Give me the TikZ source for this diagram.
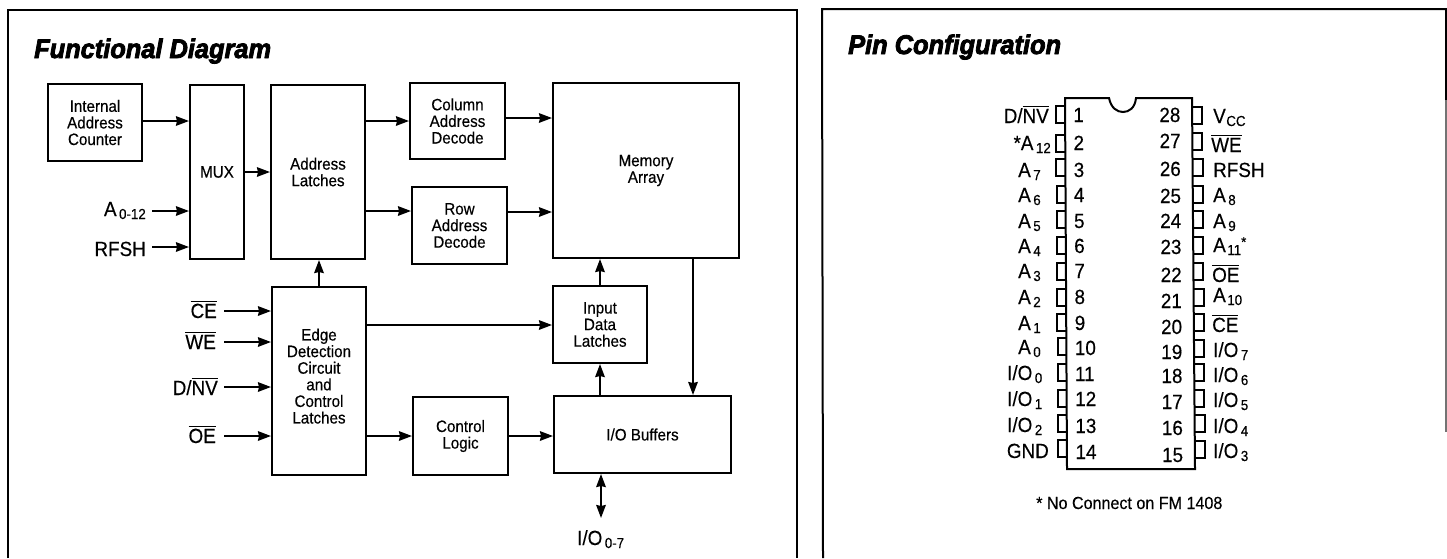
\documentclass[tikz,border=0pt]{standalone}
\usepackage{fontspec}
\setmainfont[FakeStretch=0.92,FakeBold=0.35]{Liberation Sans}
\newfontfamily\titlefont[FakeBold=3,FakeStretch=0.94]{Liberation Sans Bold Italic}
\usetikzlibrary{arrows.meta}
\newcommand\ovl[1]{\leavevmode\vbox{\hrule height 1.5pt\kern 1.6pt\hbox{#1}}}
\newcommand\lowsub[1]{\kern2.5pt\raisebox{-3pt}{\fontsize{14.5}{15}\selectfont #1}}
\tikzset{
  x=1pt,y=-1pt,
  panel/.style={line width=2pt,black},
  blockbox/.style={draw,line width=2pt,inner sep=0pt,align=center,
    font=\fontsize{16.5}{16.6}\selectfont},
  conn/.style={line width=2pt,-{Stealth[length=13pt,width=9.5pt,inset=1pt]}},
  bus/.style={line width=2pt,{Stealth[length=13pt,width=9.5pt,inset=1pt]}-{Stealth[length=13pt,width=9.5pt,inset=1pt]}},
  biglabel/.style={inner sep=0pt,anchor=base east,font=\fontsize{20.5}{21}\selectfont},
  pinbox/.style={line width=2pt},
  pintext/.style={inner sep=0pt,anchor=base west,font=\fontsize{20.5}{21}\selectfont},
  pintextr/.style={inner sep=0pt,anchor=base east,font=\fontsize{20.5}{21}\selectfont},
  title/.style={inner sep=0pt,anchor=base west,font=\titlefont\fontsize{27}{28}\selectfont},
}
\newcommand\blockn[6]{%
  \node[blockbox,minimum width={#4-#2},minimum height={#5-#3}] (#1) at ({(#2+#4)/2},{(#3+#5)/2}) {#6};}
\begin{document}
\begin{tikzpicture}
\useasboundingbox (0,0) rectangle (1447,558);
% panels
\draw[panel] (8,558) -- (8,10) -- (797,10) -- (797,558);
\draw[panel] (823,558) -- (822,9) -- (1446,9) -- (1446,100);
\draw[line width=1.2pt,black!55] (1446,100) -- (1446,432);
\node[title] (t1) at (34,58) {Functional Diagram};
\node[title] (t2) at (848,54) {Pin Configuration};
% blocks
\blockn{int}{48}{84}{142}{161}{Internal\\Address\\Counter}
\blockn{mux}{190}{85}{244}{259}{MUX}
\blockn{adl}{271}{85}{365}{259}{Address\\Latches}
\blockn{col}{410}{83}{505}{159}{Column\\Address\\Decode}
\blockn{row}{412}{187}{507}{264}{Row\\Address\\Decode}
\blockn{mem}{553}{83}{739}{258}{Memory\\Array}
\blockn{inp}{553}{286}{647}{363}{Input\\Data\\Latches}
\blockn{iob}{554}{396}{731}{473}{I/O Buffers}
\blockn{ctl}{413}{397}{508}{475}{Control\\Logic}
\node[blockbox,minimum width=94,minimum height=188,text depth=10pt] (edg) at (319,381) {Edge\\Detection\\Circuit\\and\\Control\\Latches};
% external labels
\node[biglabel] (la) at (146,216) {A\lowsub{0-12}};
\node[biglabel] (lr) at (146,256) {RFSH};
\node[biglabel] (lce) at (217,318) {\ovl{CE}};
\node[biglabel] (lwe) at (216,349) {\ovl{WE}};
\node[biglabel] (ldn) at (218,395) {D/\ovl{NV}};
\node[biglabel] (loe) at (216,443) {\ovl{OE}};
\node[biglabel,anchor=base west] (lio) at (577,545) {I/O\lowsub{0-7}};
\coordinate (sa) at (152,211);
\coordinate (sr) at (152,247);
\coordinate (sce) at (224,311);
\coordinate (swe) at (224,342);
\coordinate (sdn) at (224,387);
\coordinate (soe) at (224,436);
\coordinate (sio) at (601,518);
% connectors
\draw[conn] (int.east |- 0,121) -- (mux.west |- 0,121);
\draw[conn] (mux.east |- 0,172) -- (adl.west |- 0,172);
\draw[conn] (sa) -- (mux.west |- sa);
\draw[conn] (sr) -- (mux.west |- sr);
\draw[conn] (adl.east |- 0,121) -- (col.west |- 0,121);
\draw[conn] (adl.east |- 0,211) -- (row.west |- 0,211);
\draw[conn] (col.east |- 0,118) -- (mem.west |- 0,118);
\draw[conn] (row.east |- 0,212) -- (mem.west |- 0,212);
\draw[conn] (edg.north) -- (edg.north |- adl.south);
\draw[conn] (edg.east |- 0,325) -- (inp.west |- 0,325);
\draw[conn] (edg.east |- 0,436) -- (ctl.west |- 0,436);
\draw[conn] (ctl.east |- 0,436) -- (iob.west |- 0,436);
\draw[conn] (inp.north) -- (inp.north |- mem.south);
\draw[conn] (iob.north -| inp.south) -- (inp.south);
\draw[conn] (693,0 |- mem.south) -- (693,0 |- iob.north);
\draw[bus] (sio) -- (sio |- iob.south);
\draw[conn] (sce) -- (edg.west |- sce);
\draw[conn] (swe) -- (edg.west |- swe);
\draw[conn] (sdn) -- (edg.west |- sdn);
\draw[conn] (soe) -- (edg.west |- soe);
% chip
\draw[line width=2pt] (1067,469) -- (1065,98) -- (1109,98)
  .. controls (1111,108) and (1117,112) .. (1123,112)
  .. controls (1129,112) and (1135,108) .. (1136,98)
  -- (1192,98) -- (1195,469) -- cycle;
\foreach \c in {114.5,143,167.5,194.5,219.5,245,271,297,322,346.5,372.5,398.5,423.5,448.5}{
  \pgfmathsetmacro\dx{0.0065*(\c-98)}
  \draw[pinbox] ({1065+\dx},{\c-8.5}) -- ++(-9,0) -- ++(0,17) -- ++(9,0);
}
\foreach \c in {115,141.5,167.5,194.5,219.5,245.5,271,297,322,348.5,372.5,398.5,423.5,449.5}{
  \pgfmathsetmacro\dx{0.008*(\c-98)}
  \draw[pinbox] ({1192+\dx},{\c-8.5}) -- ++(10,0) -- ++(0,17) -- ++(-10,0);
}
% pin numbers, left
\foreach \n/\b in {1/122,2/150,3/177,4/202,5/228,6/253,7/278,8/304,9/330,10/355,11/381,12/406,13/433,14/459}{
  \node[pintext] (nl\n) at ({1073+0.0065*(\b-98)},\b) {\n};
}
% pin numbers, right
\foreach \n/\b in {28/122,27/148,26/176,25/203,24/228,23/254,22/282,21/308,20/334,19/359,18/383,17/409,16/435,15/462}{
  \node[pintext] (nr\n) at ({1159+0.008*(\b-98)},\b) {\n};
}
% pin names, left
\node[pintextr] (pl1) at (1049,123) {D/\ovl{NV}};
\node[pintextr] (pl2) at (1051,150) {*A\lowsub{12}};
\node[pintext] (pl3) at (1018,177) {A\lowsub{7}};
\node[pintext] (pl4) at (1018,202) {A\lowsub{6}};
\node[pintext] (pl5) at (1018,228) {A\lowsub{5}};
\node[pintext] (pl6) at (1018,253) {A\lowsub{4}};
\node[pintext] (pl7) at (1018,278) {A\lowsub{3}};
\node[pintext] (pl8) at (1018,304) {A\lowsub{2}};
\node[pintext] (pl9) at (1018,330) {A\lowsub{1}};
\node[pintext] (pl10) at (1018,354) {A\lowsub{0}};
\node[pintext] (pl11) at (1007,380) {I/O\lowsub{0}};
\node[pintext] (pl12) at (1007,406) {I/O\lowsub{1}};
\node[pintext] (pl13) at (1007,432) {I/O\lowsub{2}};
\node[pintextr] (pl14) at (1049,458) {GND};
% pin names, right
\node[pintext] (pr28) at (1213,123) {V\lowsub{\kern-2pt CC}};
\node[pintext] (pr27) at (1211,152) {\ovl{WE}};
\node[pintext] (pr26) at (1213,177) {RFSH};
\node[pintext] (pr25) at (1213,202) {A\lowsub{8}};
\node[pintext] (pr24) at (1213,228) {A\lowsub{9}};
\node[pintext] (pr23) at (1213,252) {A\lowsub{\kern-1pt 11}\raisebox{5pt}{\fontsize{14.5}{15}\selectfont *}};
\node[pintext] (pr22) at (1212,282) {\ovl{OE}};
\node[pintext] (pr21) at (1213,302) {A\lowsub{\kern-1pt 10}};
\node[pintext] (pr20) at (1212,332) {\ovl{CE}};
\node[pintext] (pr19) at (1213,357) {I/O\lowsub{7}};
\node[pintext] (pr18) at (1213,382) {I/O\lowsub{6}};
\node[pintext] (pr17) at (1213,407) {I/O\lowsub{5}};
\node[pintext] (pr16) at (1213,433) {I/O\lowsub{4}};
\node[pintext] (pr15) at (1213,458) {I/O\lowsub{3}};
\node[inner sep=0pt,anchor=base west,font=\fontsize{17.5}{18}\selectfont] (fn) at (1036,509) {* No Connect on FM 1408};
\end{tikzpicture}
\end{document}
